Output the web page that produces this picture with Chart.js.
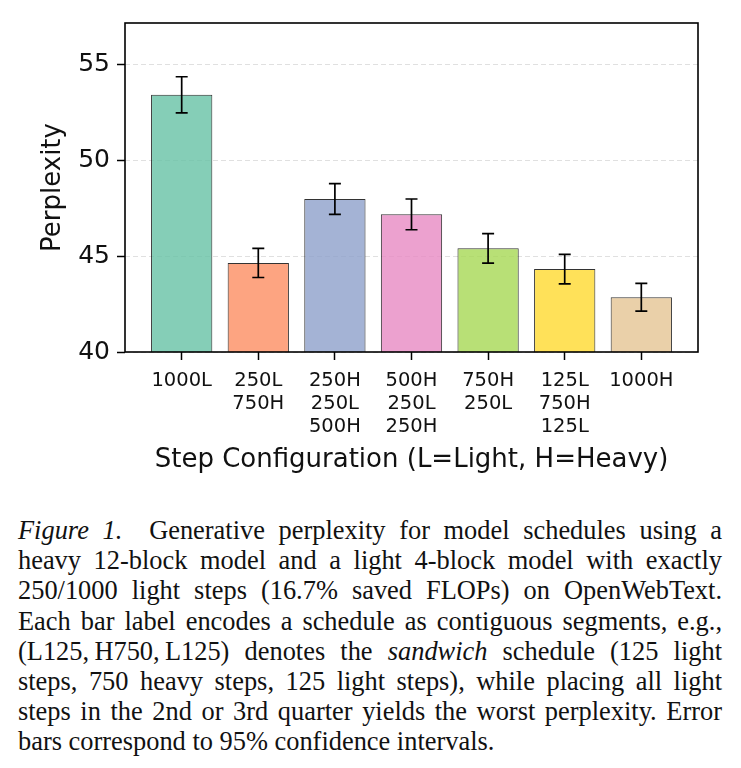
<!DOCTYPE html>
<html><head><meta charset="utf-8">
<script src="https://cdn.jsdelivr.net/npm/chart.js@4/dist/chart.umd.min.js"></script>
<style>
html,body{margin:0;padding:0;background:#fff;}
#wrap{position:relative;width:741px;height:768px;overflow:hidden;}
#c{position:absolute;left:0;top:0;}
#cap{position:absolute;left:18px;top:515px;width:704px;font-family:"Liberation Serif","Times New Roman",serif;font-size:26.4px;line-height:30.2px;color:#111;}
#cap div{white-space:nowrap;text-align:justify;text-align-last:justify;}
#cap div.last{text-align-last:left;}
</style></head>
<body><div id="wrap"><canvas id="c" width="741" height="495" style="width:741px;height:495px"></canvas>
<div id="cap">
<div><i>Figure 1.</i>&ensp; Generative perplexity for model schedules using a</div>
<div>heavy 12-block model and a light 4-block model with exactly</div>
<div>250/1000 light steps (16.7% saved FLOPs) on OpenWebText.</div>
<div>Each bar label encodes a schedule as contiguous segments, e.g.,</div>
<div>(L125,&#8201;H750,&#8201;L125) denotes the <i>sandwich</i> schedule (125 light</div>
<div>steps, 750 heavy steps, 125 light steps), while placing all light</div>
<div>steps in the 2nd or 3rd quarter yields the worst perplexity. Error</div>
<div class="last">bars correspond to 95% confidence intervals.</div>
</div></div>
<script>
const categories = [["1000L"],["250L","750H"],["250H","250L","500H"],["500H","250L","250H"],["750H","250L"],["125L","750H","125L"],["1000H"]];
const perplexity = [53.40, 44.64, 47.97, 47.17, 45.40, 44.32, 42.85];
const ciHalfWidth = [0.94, 0.76, 0.80, 0.80, 0.77, 0.77, 0.72];
const barColors = ["rgba(102,194,165,0.8)","rgba(252,141,98,0.8)","rgba(141,160,203,0.8)","rgba(231,138,195,0.8)","rgba(166,216,84,0.8)","rgba(255,217,47,0.8)","rgba(229,196,148,0.8)"];
const yTicks = [40, 45, 50, 55];
const yRange = [40, 57.14];
const xRange = [-0.74, 6.74];

const errorBars = {
  id: 'errorBars',
  afterDatasetsDraw(chart) {
    const ctx = chart.ctx, xs = chart.scales.x, ys = chart.scales.y;
    ctx.save();
    ctx.strokeStyle = '#000';
    ctx.lineWidth = 1.7;
    perplexity.forEach((v, i) => {
      const x = xs.getPixelForValue(i);
      const yt = ys.getPixelForValue(v + ciHalfWidth[i]);
      const yb = ys.getPixelForValue(v - ciHalfWidth[i]);
      ctx.beginPath();
      ctx.moveTo(x, yt); ctx.lineTo(x, yb);
      ctx.moveTo(x - 6, yt); ctx.lineTo(x + 6, yt);
      ctx.moveTo(x - 6, yb); ctx.lineTo(x + 6, yb);
      ctx.stroke();
    });
    ctx.restore();
  }
};
const frame = {
  id: 'frame',
  afterDraw(chart) {
    const a = chart.chartArea, ctx = chart.ctx;
    ctx.save();
    ctx.strokeStyle = '#000';
    ctx.lineWidth = 1.6;
    ctx.strokeRect(a.left, a.top, a.right - a.left, a.bottom - a.top);
    ctx.restore();
  }
};

new Chart(document.getElementById('c'), {
  type: 'bar',
  data: {
    datasets: [{
      data: perplexity.map((v, i) => ({x: i, y: v})),
      backgroundColor: barColors,
      borderColor: 'rgba(0,0,0,0.8)',
      borderWidth: 1,
      categoryPercentage: 0.8,
      barPercentage: 1.0
    }]
  },
  options: {
    responsive: false,
    animation: false,
    devicePixelRatio: 1,
    layout: {padding: {top: 23, right: 43, left: 0, bottom: 0}},
    plugins: {legend: {display: false}, tooltip: {enabled: false}},
    scales: {
      x: {
        type: 'linear',
        min: xRange[0], max: xRange[1],
        offset: false,
        afterBuildTicks(s) { s.ticks = categories.map((_, i) => ({value: i})); },
        afterFit(s) { s.height = 143; },
        grid: {offset: false, drawOnChartArea: false, drawTicks: true, tickLength: 8, tickColor: '#000', tickWidth: 1.5},
        border: {display: false},
        ticks: {
          autoSkip: false, maxRotation: 0, minRotation: 0, padding: 10,
          color: '#111',
          font: {family: 'DejaVu Sans', size: 19.5, lineHeight: 1.17},
          callback: (v) => categories[v]
        },
        title: {display: true, text: 'Step Configuration (L=Light, H=Heavy)', color: '#111',
          font: {family: 'DejaVu Sans', size: 26, lineHeight: 1.2}, padding: {top: 0, bottom: 19}}
      },
      y: {
        min: yRange[0], max: yRange[1],
        afterBuildTicks(s) { s.ticks = yTicks.map(v => ({value: v})); },
        afterFit(s) { s.width = 125; },
        grid: {color: 'rgba(0,0,0,0.12)', lineWidth: 1, drawTicks: true, tickLength: 8, tickColor: '#000', tickWidth: 1.5},
        border: {display: false, dash: [5, 3]},
        ticks: {padding: 7, color: '#111', font: {family: 'DejaVu Sans', size: 25}},
        title: {display: true, text: 'Perplexity', color: '#111',
          font: {family: 'DejaVu Sans', size: 26, lineHeight: 1.2}, padding: {top: 38, bottom: 0}}
      }
    }
  },
  plugins: [errorBars, frame]
});
</script>
</body></html>
